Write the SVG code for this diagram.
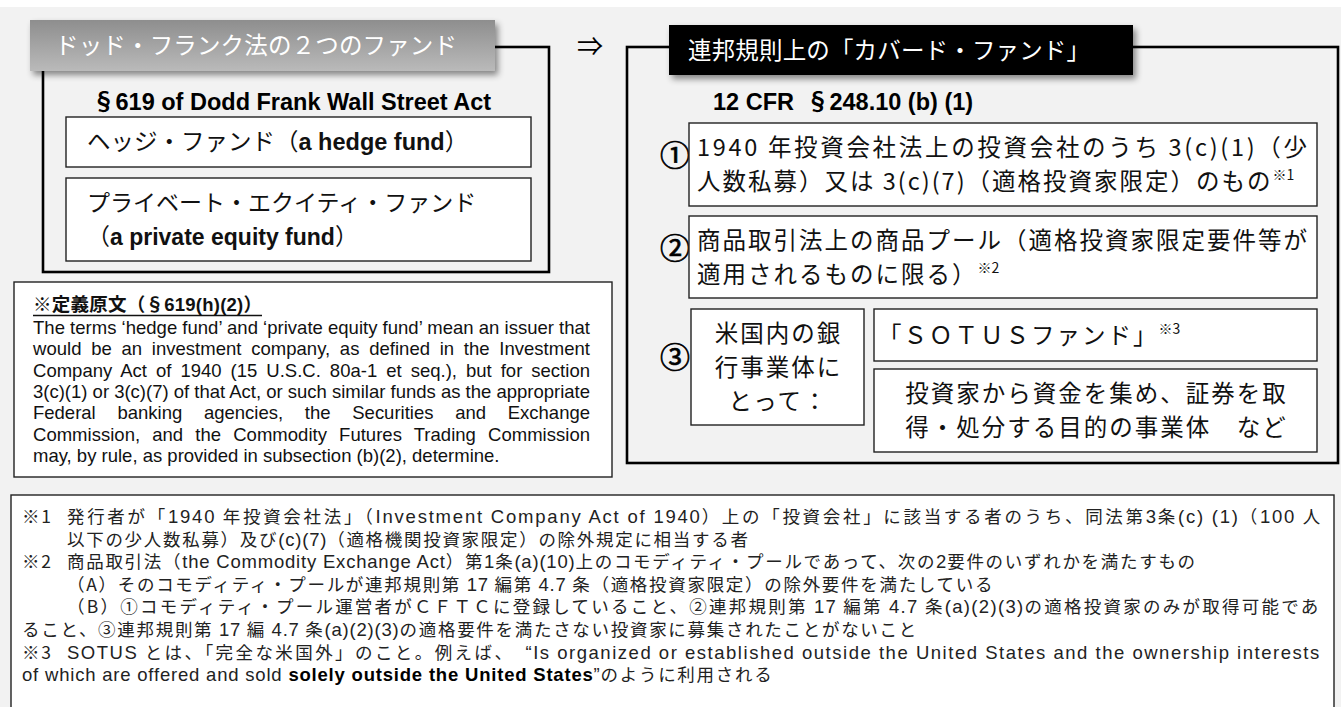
<svg xmlns="http://www.w3.org/2000/svg" width="1341" height="707" viewBox="0 0 1341 707">
<defs>
<linearGradient id="gHead" x1="0" y1="0" x2="0" y2="1">
<stop offset="0" stop-color="#8e8e8e"/>
<stop offset="1" stop-color="#bababa"/>
</linearGradient>
<filter id="shadow" x="-5%" y="-30%" width="115%" height="180%">
<feDropShadow dx="3" dy="4" stdDeviation="3" flood-color="#000" flood-opacity="0.45"/>
</filter>
<style>
.jp{font-family:"Noto Sans CJK JP","Noto Sans CJK SC",sans-serif}
.en{font-family:"Liberation Sans",Arial,sans-serif}
.b{font-weight:bold}
.outer{fill:none;stroke:#000;stroke-width:2.6}
.inner{fill:#fff;stroke:#222;stroke-width:1.4}
.hdr{font-size:23.5px;fill:#fff}
.item{font-size:23.5px;letter-spacing:2px;fill:#111}
.circ{font-size:30px;fill:#000;stroke:#000;stroke-width:0.7;text-anchor:middle}
.sup{font-size:14px;letter-spacing:0}
.def{font-size:18.5px;fill:#111}
.fn{font-size:17.5px;letter-spacing:1.7px;fill:#222}
.lat{font-family:"Liberation Sans",Arial,sans-serif;font-size:18.5px;letter-spacing:0.8px}
</style>
</defs>

<rect x="0" y="0" width="1341" height="707" fill="#ffffff"/>
<rect x="0" y="7" width="1341" height="700" fill="#f2f2f2"/>

<g id="dodd-frank-panel">
<rect class="outer" x="43" y="47" width="506" height="225"/>
<rect x="30" y="20" width="465" height="51" fill="url(#gHead)" filter="url(#shadow)"/>
<text class="jp hdr" x="55" y="54" textLength="402">ドッド・フランク法の２つのファンド</text>
<text x="92" y="110" font-size="23.5" fill="#000"><tspan class="jp b">§</tspan><tspan class="en b">619 of Dodd Frank Wall Street Act</tspan></text>
</g>

<g id="hedge-fund">
<rect class="inner" x="66" y="117" width="465" height="50"/>
<text x="87" y="150" font-size="23.5" fill="#111"><tspan class="jp">ヘッジ・ファンド（</tspan><tspan class="en b">a hedge fund</tspan><tspan class="jp">）</tspan></text>
</g>

<g id="private-equity-fund">
<rect class="inner" x="66" y="178" width="465" height="83"/>
<text class="jp" x="87" y="211" font-size="23" fill="#111">プライベート・エクイティ・ファンド</text>
<text x="87" y="245" font-size="23" fill="#111"><tspan class="jp">（</tspan><tspan class="en b">a private equity fund</tspan><tspan class="jp">）</tspan></text>
</g>

<g id="definition">
<rect class="inner" x="14" y="282" width="598" height="195"/>
<text x="33" y="311" font-size="18.5" fill="#111" textLength="229" lengthAdjust="spacing"><tspan class="jp b">※定義原文（§</tspan><tspan class="en b">619(h)(2)</tspan><tspan class="jp b">）</tspan></text>
<line x1="33" y1="315.5" x2="262" y2="315.5" stroke="#111" stroke-width="1.6"/>
<g class="en def">
<text x="33" y="334" textLength="557" lengthAdjust="spacing">The terms ‘hedge fund’ and ‘private equity fund’ mean an issuer that</text>
<text x="33" y="355.3" word-spacing="4.5" textLength="557" lengthAdjust="spacing">would be an investment company, as defined in the Investment</text>
<text x="33" y="376.6" word-spacing="3.8" textLength="557" lengthAdjust="spacing">Company Act of 1940 (15 U.S.C. 80a-1 et seq.), but for section</text>
<text x="33" y="397.9" textLength="557" lengthAdjust="spacing">3(c)(1) or 3(c)(7) of that Act, or such similar funds as the appropriate</text>
<text x="33" y="419.2" word-spacing="16.6" textLength="557" lengthAdjust="spacing">Federal banking agencies, the Securities and Exchange</text>
<text x="33" y="440.5" word-spacing="7" textLength="557" lengthAdjust="spacing">Commission, and the Commodity Futures Trading Commission</text>
<text x="33" y="461.8">may, by rule, as provided in subsection (b)(2), determine.</text>
</g>
</g>

<g id="connectors">
<text class="jp" x="577" y="56" font-size="26" fill="#000">⇒</text>
</g>

<g id="covered-fund-panel">
<rect class="outer" x="627" y="47" width="711" height="416"/>
<rect x="669" y="25" width="464" height="50" fill="#000" filter="url(#shadow)"/>
<text class="jp hdr" x="688" y="59" font-size="24" textLength="402">連邦規則上の「カバード・ファンド」</text>
<text x="713" y="110" font-size="23.5" fill="#000"><tspan class="en b">12 CFR</tspan><tspan class="jp b" dx="12">§</tspan><tspan class="en b">248.10 (b) (1)</tspan></text>
</g>

<g id="item-1">
<text class="jp circ" x="675" y="166">①</text>
<rect class="inner" x="689" y="123" width="628" height="83"/>
<text class="jp item" x="697" y="156" textLength="612" lengthAdjust="spacing">1940 年投資会社法上の投資会社のうち 3(c)(1)（少</text>
<text class="jp item" x="697" y="190">人数私募）又は 3(c)(7)（適格投資家限定）のもの<tspan class="sup" dy="-10">※1</tspan></text>
</g>

<g id="item-2">
<text class="jp circ" x="675" y="259">②</text>
<rect class="inner" x="689" y="216" width="628" height="82"/>
<text class="jp item" x="697" y="248.5">商品取引法上の商品プール（適格投資家限定要件等が</text>
<text class="jp item" x="697" y="282.5">適用されるものに限る）<tspan class="sup" dy="-10">※2</tspan></text>
</g>

<g id="item-3">
<text class="jp circ" x="675" y="368">③</text>
<rect class="inner" x="691" y="309" width="173" height="116"/>
<text class="jp item" x="778.5" y="341.5" text-anchor="middle">米国内の銀</text>
<text class="jp item" x="778.5" y="375.5" text-anchor="middle">行事業体に</text>
<text class="jp item" x="778.5" y="409.5" text-anchor="middle">とって：</text>
</g>

<g id="sotus-fund">
<rect class="inner" x="874" y="309" width="443" height="52"/>
<text class="jp item" x="878" y="343.5">「ＳＯＴＵＳファンド」<tspan class="sup" dy="-10">※3</tspan></text>
</g>

<g id="investment-entity">
<rect class="inner" x="874" y="369" width="443" height="83"/>
<text class="jp item" x="1096.5" y="402" text-anchor="middle">投資家から資金を集め、証券を取</text>
<text class="jp item" x="1096.5" y="436" text-anchor="middle">得・処分する目的の事業体　など</text>
</g>

<g id="footnotes">
<rect x="11" y="495" width="1323" height="230" fill="#fff" stroke="#222" stroke-width="1.4"/>
<g class="jp fn">
<text x="22" y="523">※1</text>
<text x="67" y="523" textLength="1255" lengthAdjust="spacing">発行者が「<tspan class="lat">1940</tspan> 年投資会社法」（<tspan class="lat">Investment Company Act of 1940</tspan>）上の「投資会社」に該当する者のうち、同法第<tspan class="lat">3</tspan>条<tspan class="lat">(c) (1)</tspan>（<tspan class="lat">100</tspan> 人</text>
<text x="67" y="545.6">以下の少人数私募）及び<tspan class="lat">(c)(7)</tspan>（適格機関投資家限定）の除外規定に相当する者</text>
<text x="22" y="568.2">※2</text>
<text x="67" y="568.2">商品取引法（<tspan class="lat">the Commodity Exchange Act</tspan>）第<tspan class="lat">1</tspan>条<tspan class="lat">(a)(10)</tspan>上のコモディティ・プールであって、次の<tspan class="lat">2</tspan>要件のいずれかを満たすもの</text>
<text x="67" y="590.8">（A）そのコモディティ・プールが連邦規則第 <tspan class="lat">17</tspan> 編第 <tspan class="lat">4.7</tspan> 条（適格投資家限定）の除外要件を満たしている</text>
<text x="67" y="613.4" textLength="1253" lengthAdjust="spacing">（B）①コモディティ・プール運営者がＣＦＴＣに登録していること、②連邦規則第 <tspan class="lat">17</tspan> 編第 <tspan class="lat">4.7</tspan> 条<tspan class="lat">(a)(2)(3)</tspan>の適格投資家のみが取得可能であ</text>
<text x="22" y="636">ること、③連邦規則第 <tspan class="lat">17</tspan> 編 <tspan class="lat">4.7</tspan> 条<tspan class="lat">(a)(2)(3)</tspan>の適格要件を満たさない投資家に募集されたことがないこと</text>
<text x="22" y="658.6">※3</text>
<text x="67" y="658.6" textLength="1253" lengthAdjust="spacing"><tspan class="lat">SOTUS</tspan> とは、「完全な米国外」のこと。例えば、　<tspan class="lat">“Is organized or established outside the United States and the ownership interests</tspan></text>
<text x="22" y="681.2"><tspan class="lat">of which are offered and sold </tspan><tspan class="lat" font-weight="bold" fill="#000">solely outside the United States</tspan><tspan class="lat">”</tspan>のように利用される</text>
</g>
</g>
</svg>
